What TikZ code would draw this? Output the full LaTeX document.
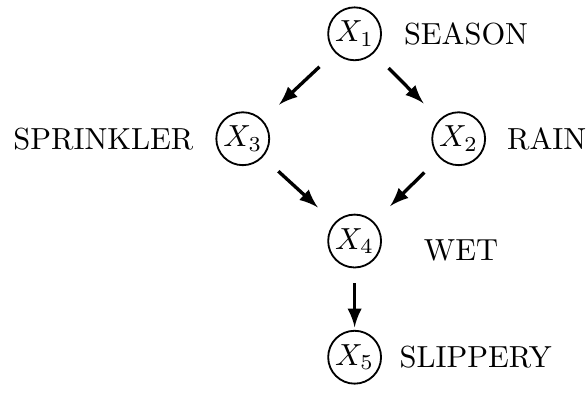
\documentclass[tikz,border=0pt]{standalone}
\usepackage{amsmath}
\usetikzlibrary{positioning}
\usetikzlibrary{arrows}
\tikzset{var/.style={circle, draw=black, semithick, minimum size=0.61cm, inner sep=0pt},
%edges between the variables
dep/.style={-latex, line width=1.1pt, shorten <=0.24cm, shorten >=0.26cm}}

\begin{document}
\begin{tikzpicture}
\useasboundingbox (0,0) rectangle (6.77,4.53);
%\draw [help lines] (0,0) grid (7,5);
% variables
\node[var] (x1) at (4.09,4.14) {$X_1$};
\node[var] (x3) at (2.80,2.93) {$X_3$};
\node[var] (x2) at (5.29,2.93) {$X_2$};
\node[var] (x4) at (4.09,1.75) {$X_4$};
\node[var] (x5) at (4.09,0.41) {$X_5$};

%labels
\node[right=0.13cm of x1] (season) {SEASON};
\node[left=0.13cm of x3] (sprinkler) {SPRINKLER};
\node[right=0.12cm of x2] (rain) {RAIN};
\node[right=0.36cm of x4, yshift=-0.11cm] (wet) {WET};
\node[right=0.08cm of x5] (slippery) {SLIPPERY};

\draw[dep] (x1) -- (x3);
\draw[dep] (x1) -- (x2);
\draw[dep] (x3) -- (x4);
\draw[dep] (x2) -- (x4);
\draw[dep, shorten <=0.17cm, shorten >=0.03cm] (x4) -- (x5);

\end{tikzpicture}
\end{document}
